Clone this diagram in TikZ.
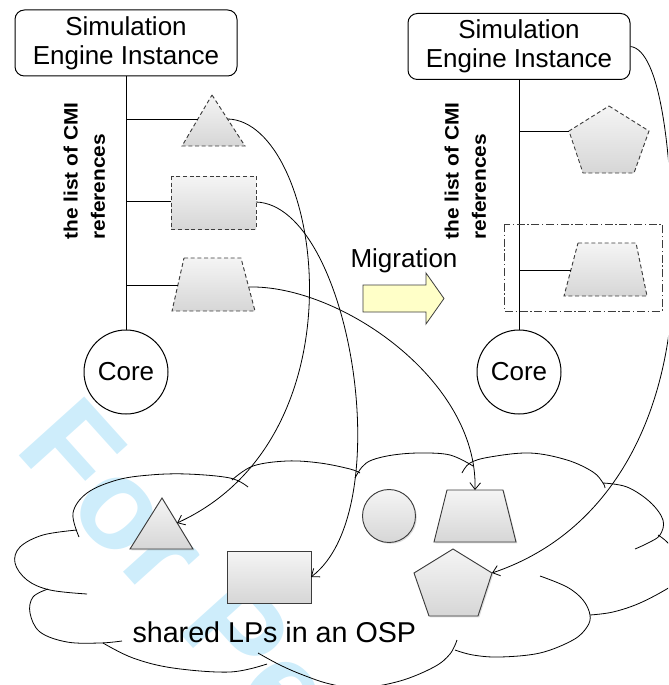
\documentclass[tikz,border=0pt]{standalone}
\usepackage{fontspec}
\setmainfont{Liberation Sans}
\usetikzlibrary{arrows.meta,shadows}
\definecolor{wmcyan}{RGB}{206,237,251}
\definecolor{edgegray}{RGB}{60,60,60}
\definecolor{arrowyellow}{RGB}{255,255,200}
\begin{document}
\begin{tikzpicture}[x=0.75pt,y=-0.75pt,line width=0.75pt,
  sei/.style={draw, rounded corners=7pt, minimum width=166.5pt, minimum height=49.5pt,
    align=center, inner sep=0pt, font=\fontsize{19.5}{21.75}\selectfont},
  corenode/.style={draw, circle, minimum size=63pt, inner sep=0pt,
    font=\fontsize{19.5}{21.75}\selectfont},
  reflist/.style={rotate=90, anchor=north west, inner sep=0pt, align=left,
    font=\fontsize{14.5}{20.6}\selectfont\bfseries},
  refshape/.style={draw=edgegray, line width=0.7pt, dash pattern=on 3pt off 2pt,
    top color=gray!8, bottom color=gray!32},
  lpshape/.style={draw=edgegray, line width=0.7pt, top color=gray!8, bottom color=gray!32,
    drop shadow={shadow xshift=1pt, shadow yshift=-1pt, opacity=0.25}},
  link/.style={draw, line width=0.6pt},
  move/.style={link, -{Straight Barb[length=5pt,width=8pt]}},
  lobe/.style={draw, line width=0.6pt},
  label/.style={anchor=base west, inner sep=0pt},
]
\useasboundingbox (0,0) rectangle (668,685);
\clip (0,0) rectangle (668,685);

% review watermark
\node[rotate=-48, anchor=base west, inner sep=0pt, text=wmcyan,
  font=\fontsize{96}{96}\selectfont\bfseries] (wm) at (13,449) {For Peer Review};

% cloud outline, lobe by lobe
\draw[lobe] plot[smooth, tension=0.6] coordinates {(87,594) (50,590) (27,580) (15,563) (20,547) (43,535) (77,530)};
\draw[lobe] plot[smooth, tension=0.6] coordinates {(79,537) (73,513) (87,493) (117,480) (150,475) (187,474) (230,478) (248,487)};
\draw[lobe] plot[smooth, tension=0.6] coordinates {(232,480) (253,466) (287,461) (320,463) (350,469) (360,473)};
\draw[lobe] plot[smooth, tension=0.6] coordinates {(355,478) (362,467) (372,460) (393,455) (420,453) (450,455) (473,466)};
\draw[lobe] plot[smooth, tension=0.6] coordinates {(462,473) (470,463) (490,457) (530,453) (567,460) (593,472) (603,483) (605,488)};
\draw[lobe] plot[smooth, tension=0.6] coordinates {(603,483) (627,487) (650,502) (663,520) (660,535) (648,543) (635,549)};
\draw[lobe] plot[smooth, tension=0.6] coordinates {(658,535) (668,543) (680,560) (684,575) (670,587) (640,603) (613,612) (590,615)};
\draw[lobe] plot[smooth, tension=0.6] coordinates {(540,576) (567,587) (583,600) (590,615) (587,627) (573,640) (540,653) (500,657) (473,655) (455,650)};
\draw[lobe] plot[smooth, tension=0.6] coordinates {(258,653) (280,665) (303,675) (330,684) (360,688) (400,681) (434,667) (450,654) (457,640)};
\draw[lobe] plot[smooth, tension=0.6] coordinates {(103,643) (133,658) (173,668) (230,672) (267,664)};
\draw[lobe] plot[smooth, tension=0.6] coordinates {(48,589) (33,597) (30,613) (40,632) (67,642) (100,643) (122,641)};

% engine instances and their cores
\node[sei] (sei1) at (126,43) {Simulation\\Engine Instance};
\node[sei] (sei2) at (519,46.5) {Simulation\\Engine Instance};
\node[corenode] (core1) at (126,372) {Core};
\node[corenode] (core2) at (519,372) {Core};
\draw (sei1.south) -- (core1.north);
\draw (sei2.south) -- (core2.north);

\node[reflist] (cmi1) at (63,240) {\scalebox{1.08}[1]{the list of CMI}\\\scalebox{1.08}[1]{references}};
\node[reflist] (cmi2) at (444,240) {\scalebox{1.08}[1]{the list of CMI}\\\scalebox{1.08}[1]{references}};

% CMI references (dashed)
\path[refshape] (212,95) -- (245,146) -- (182,146) -- cycle;
\path[refshape] (171,176) rectangle (256,229);
\path[refshape] (184,258) -- (241,258) -- (255,311) -- (172,311) -- cycle;
\path[refshape] (609,106) -- (649,131) -- (634,173) -- (583,173) -- (569,131) -- cycle;
\path[refshape] (578,243) -- (636,243) -- (647,296) -- (564,296) -- cycle;
\draw[edgegray, line width=0.7pt, dash pattern=on 6pt off 2pt on 1pt off 2pt] (504,224) rectangle (662,311);

\coordinate (refTriW) at (198,119);
\coordinate (refTriE) at (228,119);
\coordinate (refRectW) at (171,201);
\coordinate (refRectE) at (256,202);
\coordinate (refTrapW) at (178,285);
\coordinate (refTrapE) at (249,287);
\coordinate (newPentW) at (569,131);
\coordinate (newTrapW) at (571,270);

\draw (sei1.south |- refTriW) -- (refTriW);
\draw (sei1.south |- refRectW) -- (refRectW);
\draw (sei1.south |- refTrapW) -- (refTrapW);
\draw (sei2.south |- newPentW) -- (newPentW);
\draw (sei2.south |- newTrapW) -- (newTrapW);

% shared LPs
\path[lpshape] (162,498) -- (193,549) -- (130,549) -- cycle;
\path[lpshape] (227,551) rectangle (311,603);
\path[lpshape] (389,516) circle (26.5);
\path[lpshape] (447,490) -- (503,490) -- (516,542) -- (434,542) -- cycle;
\path[lpshape] (453,549) -- (492,573) -- (478,616) -- (429,616) -- (414,573) -- cycle;

\coordinate (lpTriE) at (177,523);
\coordinate (lpRectE) at (311,577);
\coordinate (lpTrapN) at (475,490);
\coordinate (lpPentE) at (492,573);
\coordinate (bendR) at (673,260);

\node[label, font=\fontsize{21.5}{24}\selectfont] (osp) at (132,642) {shared LPs in an OSP};

% migration arrow
\path[draw=edgegray, fill=arrowyellow, line width=0.6pt]
  (363,285) -- (426,285) -- (426,273) -- (444,298.5) -- (426,324) -- (426,312) -- (363,312) -- cycle;
\node[label, font=\fontsize{19.5}{21.75}\selectfont] (mig) at (350,267) {Migration};

% references to the shared LPs
\draw[move] (refTriE) .. controls (320,122) and (370,435) .. (lpTriE);
\draw[move] (refRectE) .. controls (350,205) and (400,510) .. (lpRectE);
\draw[move] (refTrapE) .. controls (340,285) and (478,380) .. (lpTrapN);
\draw[move] (sei2.east) .. controls (660,50) and (672,150) .. (bendR)
  .. controls (676,400) and (620,530) .. (lpPentE);
\end{tikzpicture}
\end{document}
